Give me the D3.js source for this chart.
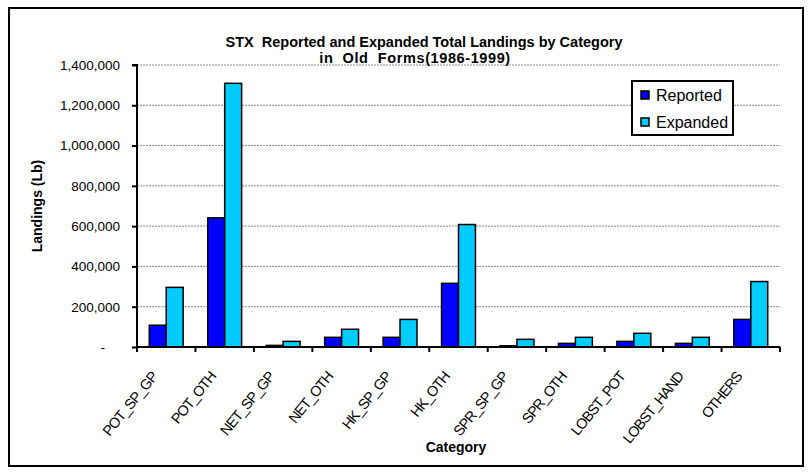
<!DOCTYPE html>
<html>
<head>
<meta charset="utf-8">
<script src="https://cdn.jsdelivr.net/npm/d3@7"></script>
<style>
  html, body { margin: 0; padding: 0; background: #fff; }
  svg { display: block; font-family: "Liberation Sans", Arial, sans-serif; }
</style>
</head>
<body>
<svg id="chart" width="810" height="473"></svg>
<script>
const titleLines = ["STX  Reported and Expanded Total Landings by Category", "in  Old  Forms(1986-1999)"];
const categories = ["POT_SP_GP", "POT_OTH", "NET_SP_GP", "NET_OTH", "HK_SP_GP", "HK_OTH", "SPR_SP_GP", "SPR_OTH", "LOBST_POT", "LOBST_HAND", "OTHERS"];
const seriesNames = ["Reported", "Expanded"];
const reported = [108000, 641000, 8000, 48000, 48000, 316000, 6000, 18000, 28000, 18000, 137000];
const expanded = [296000, 1309000, 28000, 88000, 137000, 608000, 38000, 48000, 68000, 48000, 325000];
const yTicks = [0, 200000, 400000, 600000, 800000, 1000000, 1200000, 1400000];
const colors = ["#0000FF", "#00CCFF"];

const svg = d3.select("#chart");
const L = 137, R = 780, T = 65, B = 347;

// outer frame
svg.append("rect").attr("x", 9).attr("y", 8).attr("width", 794).attr("height", 458)
  .attr("fill", "#fff").attr("stroke", "#000").attr("stroke-width", 2);

const x = d3.scaleBand().domain(categories).range([L, R]).paddingInner(0.42).paddingOuter(0.21);
const xs = d3.scaleBand().domain(seriesNames).range([0, x.bandwidth()]);
const y = d3.scaleLinear().domain([0, 1400000]).range([B, T]);

// gridlines
svg.append("g").selectAll("line").data(yTicks.filter(d => d > 0)).join("line")
  .attr("x1", L).attr("x2", R).attr("y1", d => y(d)).attr("y2", d => y(d))
  .attr("stroke", "#8c8c8c").attr("stroke-width", 1).attr("stroke-dasharray", "2,1");

// title
svg.append("g").selectAll("text").data(titleLines).join("text")
  .attr("x", (d, i) => i === 0 ? 424 : 415).attr("y", (d, i) => 47 + i * 16)
  .attr("text-anchor", "middle").attr("font-weight", "bold").attr("font-size", "14.5px")
  .attr("letter-spacing", (d, i) => i === 0 ? "0px" : "0.6px")
  .style("white-space", "pre").attr("xml:space", "preserve")
  .text(d => d);

// bars
const series = [reported, expanded];
const grp = svg.append("g").selectAll("g").data(categories).join("g")
  .attr("transform", d => `translate(${x(d)},0)`);
grp.selectAll("rect").data((c, i) => series.map((s, k) => ({k, v: s[i]}))).join("rect")
  .attr("x", d => xs(seriesNames[d.k]))
  .attr("y", d => y(d.v))
  .attr("width", xs.bandwidth())
  .attr("height", d => B - y(d.v))
  .attr("fill", d => colors[d.k])
  .attr("stroke", "#000").attr("stroke-width", 1.5);

// y axis
const yAxis = d3.axisLeft(y).tickValues(yTicks).tickSize(5).tickPadding(12)
  .tickFormat(d => d === 0 ? "-" : d3.format(",")(d));
const yg = svg.append("g").attr("transform", `translate(${L},0)`).call(yAxis);
yg.select(".domain").attr("stroke", "#000").attr("stroke-width", 2).attr("d", `M-5,${T}H0V${B}`);
yg.selectAll(".tick line").attr("stroke", "#000").attr("stroke-width", 2);
yg.selectAll(".tick text").attr("font-size", "13.5px").attr("fill", "#000")
  .attr("font-family", "Liberation Sans, Arial, sans-serif")
  .attr("dx", d => d === 0 ? -15 : 0);

// x axis line + boundary ticks
const step = x.step();
const bounds = categories.map(c => x(c) - step * 0.21).concat([R]);
svg.append("line").attr("x1", L).attr("x2", R).attr("y1", B).attr("y2", B)
  .attr("stroke", "#000").attr("stroke-width", 2);
svg.append("g").selectAll("line").data(bounds).join("line")
  .attr("x1", d => d).attr("x2", d => d).attr("y1", B).attr("y2", B + 5)
  .attr("stroke", "#000").attr("stroke-width", 2);

// x labels
svg.append("g").selectAll("text").data(categories).join("text")
  .attr("transform", d => `translate(${x(d) + x.bandwidth() / 2 - 8},377) rotate(-51)`)
  .attr("text-anchor", "end").attr("font-size", "14.5px").attr("letter-spacing", "-1px")
  .text(d => d);

// axis titles
svg.append("text").attr("x", 456).attr("y", 452).attr("text-anchor", "middle")
  .attr("font-weight", "bold").attr("font-size", "14px").text("Category");
svg.append("text").attr("transform", `translate(42,206) rotate(-90)`).attr("text-anchor", "middle")
  .attr("font-weight", "bold").attr("font-size", "14px").text("Landings (Lb)");

// legend
const lg = svg.append("g");
lg.append("rect").attr("x", 632).attr("y", 81).attr("width", 101).attr("height", 54)
  .attr("fill", "#fff").attr("stroke", "#000").attr("stroke-width", 2);
const li = lg.selectAll("g.item").data(seriesNames).join("g").attr("class", "item")
  .attr("transform", (d, i) => `translate(641,${95 + i * 27})`);
li.append("rect").attr("x", 0).attr("y", -4).attr("width", 8).attr("height", 8)
  .attr("fill", (d, i) => colors[i]).attr("stroke", "#000").attr("stroke-width", 1.5);
li.append("text").attr("x", 15).attr("y", 6).attr("font-size", "16px").text(d => d);
</script>
</body>
</html>
